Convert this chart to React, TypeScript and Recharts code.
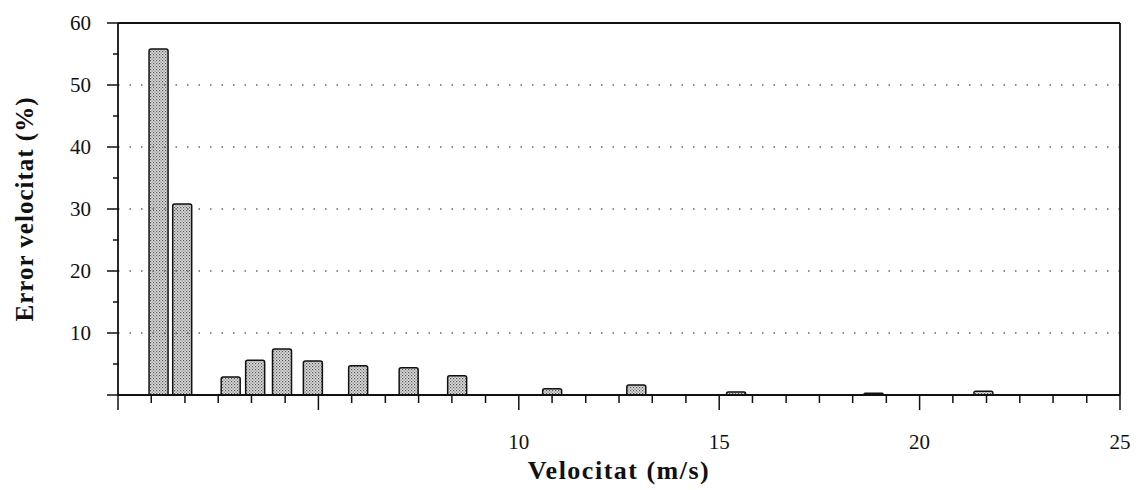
import { BarChart, Bar, XAxis, YAxis, ReferenceLine } from "recharts";

// velocity (m/s) at which each bar sits, and its error (%)
const velocity = [1.02, 1.61, 2.82, 3.43, 4.1, 4.87, 6.0, 7.26, 8.47, 10.84, 12.94, 15.43, 18.86, 21.6];
const errorPct = [55.8, 30.8, 2.9, 5.6, 7.4, 5.5, 4.7, 4.4, 3.1, 1.0, 1.6, 0.5, 0.3, 0.6];

const xTicks = [
  0, 0.83, 1.67, 2.5, 3.33, 4.17, 5, 5.83, 6.67, 7.5, 8.33, 9.17, 10, 10.83, 11.67, 12.5,
  13.33, 14.17, 15, 15.83, 16.67, 17.5, 18.33, 19.17, 20, 20.83, 21.67, 22.5, 23.33, 24.17, 25,
];
const xLabels = [10, 15, 20, 25];
const yTicks = [0, 5, 10, 15, 20, 25, 30, 35, 40, 45, 50, 55, 60];
const yLabels = [10, 20, 30, 40, 50, 60];
const gridLines = [10, 20, 30, 40, 50];

const chartData = velocity.map((v, i) => ({ v, err: errorPct[i] }));

const serif = "'Times New Roman', 'Liberation Serif', serif";

type TickProps = { x?: number; y?: number; payload?: { value: number } };

function XTick({ x = 0, y = 0, payload }: TickProps) {
  const val = payload?.value ?? 0;
  const major = Math.abs(val % 5) < 0.01;
  return (
    <g>
      <line x1={x} y1={y} x2={x} y2={y + (major ? 15 : 8)} stroke="#111" strokeWidth={1.5} />
      {xLabels.includes(val) && (
        <text x={x} y={y + 54} textAnchor="middle" fontFamily={serif} fontSize={21} fill="#111">
          {val}
        </text>
      )}
    </g>
  );
}

function YTick({ x = 0, y = 0, payload }: TickProps) {
  const val = payload?.value ?? 0;
  const major = val % 10 === 0;
  return (
    <g>
      <line x1={x - (major ? 11 : 5)} y1={y} x2={x + 1} y2={y} stroke="#111" strokeWidth={1.5} />
      {yLabels.includes(val) && (
        <text x={x - 27} y={y} dy="0.35em" textAnchor="end" fontFamily={serif} fontSize={21} fill="#111">
          {val}
        </text>
      )}
    </g>
  );
}

export default function App() {
  return (
    <div style={{ position: "absolute", left: 0, top: 0, width: 1137, height: 490, background: "#fff" }}>
      <BarChart width={1137} height={490} data={chartData} margin={{ top: 23, right: 17, bottom: 0, left: 0 }}>
        <defs>
          <pattern id="stipple" width="3" height="3" patternUnits="userSpaceOnUse">
            <rect width="3" height="3" fill="#dcdcdc" />
            <rect x="0" y="0" width="1.2" height="1.2" fill="#555" />
            <rect x="1.5" y="1.5" width="1.2" height="1.2" fill="#777" />
          </pattern>
        </defs>
        {gridLines.map((g) => (
          <ReferenceLine key={g} y={g} stroke="#666" strokeWidth={1.3} strokeDasharray="1.5 10" />
        ))}
        <ReferenceLine y={60} stroke="#111" strokeWidth={1.8} />
        <ReferenceLine x={25} stroke="#111" strokeWidth={1.8} />
        <XAxis
          dataKey="v"
          type="number"
          domain={[0, 25]}
          ticks={xTicks}
          interval={0}
          height={95}
          tickLine={false}
          tickSize={0}
          tickMargin={0}
          axisLine={{ stroke: "#111", strokeWidth: 1.8 }}
          tick={<XTick />}
          label={{
            value: "Velocitat (m/s)",
            position: "insideBottom",
            offset: 11,
            style: { fontFamily: serif, fontSize: 26, fontWeight: "bold", fill: "#111", letterSpacing: 1.5 },
          }}
        />
        <YAxis
          type="number"
          domain={[0, 60]}
          ticks={yTicks}
          interval={0}
          width={118}
          tickLine={false}
          tickSize={0}
          tickMargin={0}
          axisLine={{ stroke: "#111", strokeWidth: 1.8 }}
          tick={<YTick />}
          label={{
            content: (props: { viewBox?: { y: number; height: number } }) => {
              const vb = props.viewBox ?? { y: 23, height: 372 };
              const cy = vb.y + vb.height / 2;
              return (
                <text
                  x={24}
                  y={cy}
                  transform={`rotate(-90 24 ${cy})`}
                  textAnchor="middle"
                  dy="0.35em"
                  fontFamily={serif}
                  fontSize={25}
                  fontWeight="bold"
                  letterSpacing={1}
                  fill="#111"
                >
                  Error velocitat (%)
                </text>
              );
            },
          }}
        />
        <Bar
          dataKey="err"
          barSize={19}
          fill="url(#stipple)"
          stroke="#111"
          strokeWidth={1.5}
          radius={[2, 2, 0, 0]}
          isAnimationActive={false}
        />
      </BarChart>
    </div>
  );
}
